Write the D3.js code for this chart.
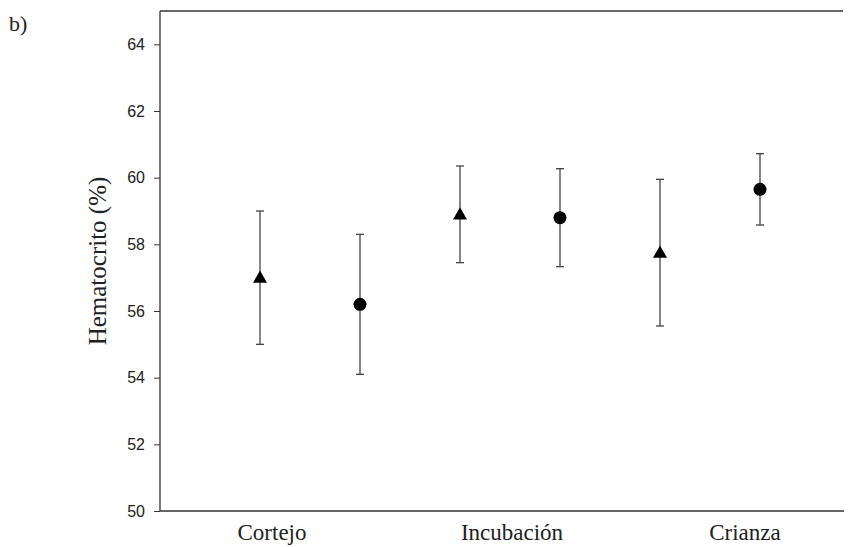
<!DOCTYPE html>
<html>
<head>
<meta charset="UTF-8">
<title>Hematocrito</title>
<script src="https://cdn.jsdelivr.net/npm/d3@7/dist/d3.min.js"></script>
<style type="text/css">
body { margin: 0; background: #fff; }
.tick text { font: 16px "Liberation Sans", Arial, sans-serif; fill: #222; }
.serif { font-family: "Liberation Serif", "Times New Roman", serif; fill: #222; }
</style>
</head>
<body>
<div id="chart"></div>
<script>
// values
var means   = [57.0, 56.2, 58.9, 58.8, 57.75, 59.65];
var errors  = [2.0, 2.1, 1.45, 1.47, 2.2, 1.07];
var shapes  = ["triangle", "circle", "triangle", "circle", "triangle", "circle"];
var groups  = ["Cortejo", "Incubación", "Crianza"];
var groupAt = [1.12, 3.52, 5.85];
var yTicks  = [50, 52, 54, 56, 58, 60, 62, 64];

var width = 852, height = 547;
var pLeft = 160, pRight = 843, pTop = 11, pBottom = 511;

var svg = d3.select("#chart").append("svg")
    .attr("width", width)
    .attr("height", height);

var x = d3.scaleLinear().domain([0, 6.83]).range([pLeft, pRight]);
var y = d3.scaleLinear().domain([50, 65]).range([pBottom, pTop]);

// frame: top line and bottom line
svg.append("line")
    .attr("x1", pLeft).attr("x2", pRight)
    .attr("y1", pTop).attr("y2", pTop)
    .attr("stroke", "#333").attr("stroke-width", 1.3);

svg.append("line")
    .attr("x1", pLeft).attr("x2", pRight + 1)
    .attr("y1", pBottom).attr("y2", pBottom)
    .attr("stroke", "#333").attr("stroke-width", 1.5);

var yAxis = svg.append("g")
    .attr("transform", "translate(" + pLeft + ",0)")
    .call(d3.axisLeft(y).tickValues(yTicks).tickSize(6).tickPadding(9).tickSizeOuter(0));
yAxis.select(".domain").attr("stroke", "#333").attr("stroke-width", 1.3)
    .attr("d", "M0," + pTop + "V" + pBottom);
yAxis.selectAll(".tick line").attr("stroke", "#333");

var pts = means.map(function (m, i) {
    return { i: i + 1, m: m, e: errors[i], shape: shapes[i] };
});

var g = svg.selectAll(".pt")
    .data(pts)
    .enter()
    .append("g")
    .attr("class", "pt");

g.append("line")
    .attr("x1", function (d) { return x(d.i); })
    .attr("x2", function (d) { return x(d.i); })
    .attr("y1", function (d) { return y(d.m + d.e); })
    .attr("y2", function (d) { return y(d.m - d.e); })
    .attr("stroke", "#444").attr("stroke-width", 1.3);

[1, -1].forEach(function (s) {
    g.append("line")
        .attr("x1", function (d) { return x(d.i) - 4; })
        .attr("x2", function (d) { return x(d.i) + 4; })
        .attr("y1", function (d) { return y(d.m + s * d.e); })
        .attr("y2", function (d) { return y(d.m + s * d.e); })
        .attr("stroke", "#444").attr("stroke-width", 1.3);
});

var tri = d3.symbol().type(d3.symbolTriangle).size(85);
g.filter(function (d) { return d.shape === "triangle"; })
    .append("path")
    .attr("d", tri)
    .attr("transform", function (d) { return "translate(" + x(d.i) + "," + (y(d.m) + 1) + ")"; })
    .attr("fill", "#000");

g.filter(function (d) { return d.shape === "circle"; })
    .append("circle")
    .attr("cx", function (d) { return x(d.i); })
    .attr("cy", function (d) { return y(d.m); })
    .attr("r", 6.5)
    .attr("fill", "#000");

svg.selectAll(".grp")
    .data(groups)
    .enter()
    .append("text")
    .attr("class", "serif")
    .attr("x", function (d, i) { return x(groupAt[i]); })
    .attr("y", 540)
    .attr("text-anchor", "middle")
    .style("font-size", "23px")
    .text(function (d) { return d; });

svg.append("text")
    .attr("class", "serif")
    .attr("transform", "translate(106,261) rotate(-90)")
    .attr("text-anchor", "middle")
    .style("font-size", "25px")
    .text("Hematocrito (%)");

svg.append("text")
    .attr("class", "serif")
    .attr("x", 9).attr("y", 31)
    .style("font-size", "22px")
    .text("b)");
</script>
</body>
</html>
